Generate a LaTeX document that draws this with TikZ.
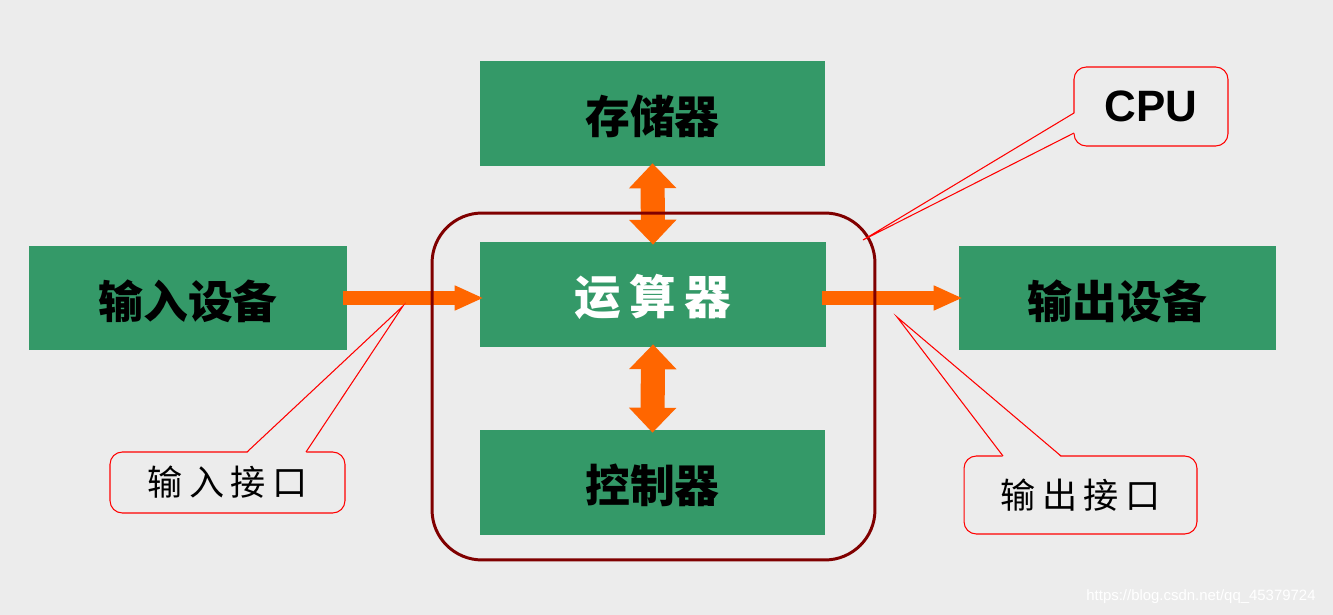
\documentclass[tikz,border=0pt]{standalone}
\usepackage{fontspec}
\setmainfont{Liberation Sans}
\newfontfamily\cjkbold{Noto Sans CJK SC}
\newfontfamily\cjkwide{Noto Sans CJK SC}[LetterSpace=18]
\usepackage{tikz}
\usetikzlibrary{
	arrows.meta,
	positioning,
	calc
}
\usepackage{xcolor}
\definecolor{bggray}{RGB}{236,236,236}
\definecolor{unitgreen}{RGB}{52,153,104}
\definecolor{busorange}{RGB}{255,102,0}
\definecolor{cpured}{RGB}{128,0,0}

\begin{document}
\begin{tikzpicture}[x=0.02cm,y=-0.02cm,
	unit/.style={fill=unitgreen,inner sep=0pt,minimum width=6.9cm,minimum height=2.1cm,
		text height=26pt,text depth=3pt,
		font=\cjkbold\bfseries\fontsize{25.5}{30}\selectfont},
	flow/.style={draw=busorange,line width=7.4pt,
		-{Triangle[length=16.5pt,width=13.1pt]},shorten <=-0.08cm,shorten >=-0.08cm},
	bus/.style={draw=busorange,line width=13.7pt,
		{Triangle[length=14.2pt,width=26.2pt]}-{Triangle[length=14.2pt,width=26.2pt]},
		shorten <=-0.06cm,shorten >=-0.06cm},
	note/.style={draw=red,line width=0.6pt,fill=bggray,rounded corners=7pt,inner sep=0pt},
	pointer/.style={draw=red,line width=0.6pt}
	]
			
			\fill[bggray] (0,0) rectangle (1333,615);
			
			\node[unit] (mem) at (652.5,113.5) {存储器};
			\node[unit,minimum width=6.92cm,text=white,font=\cjkwide\bfseries\fontsize{26.5}{30}\selectfont]
				(alu) at (653,294.5) {运算器};
			\node[unit] (ctrl) at (652.5,482.5) {控制器};
			
			\node[unit,minimum width=6.36cm,minimum height=2.08cm] (in) at (188,298) {输入设备};
			\node[unit,minimum width=6.34cm,minimum height=2.08cm] (out) at (1117.5,298) {输出设备};
			
			\draw[flow] (in.east) -- (in.east -| alu.west);
			\draw[flow] (alu.east |- out.west) -- (out.west);
			
			\draw[bus] (mem.south) -- (alu.north);
			\draw[bus] (alu.south) -- (ctrl.north);
			
			\node[draw=cpured,line width=1.7pt,rounded corners=1cm,
				minimum width=8.86cm,minimum height=6.94cm] (cpu) at (653.5,386.5) {};
			
			% callouts
			\node[note,minimum width=3.08cm,minimum height=1.58cm,
				font=\bfseries\fontsize{25}{30}\selectfont] (cpunote) at (1151,106.5) {CPU};
			\coordinate (cputip) at (863,240);
			\fill[bggray] (1075,113) -- (cputip) -- (1075,133) -- cycle;
			\draw[pointer] (1074,113) -- (cputip) -- (1074,133);
			
			\node[note,minimum width=4.7cm,minimum height=1.22cm,
				font=\cjkwide\fontsize{20}{24}\selectfont] (innote) at (227.5,482.5) {输入接口};
			\coordinate (intip) at (403,306);
			\fill[bggray] (247,453) -- (intip) -- (306,453) -- cycle;
			\draw[pointer] (247,452) -- (intip) -- (306,452);
			
			\node[note,minimum width=4.66cm,minimum height=1.56cm,
				font=\cjkwide\fontsize{20}{24}\selectfont] (outnote) at (1080.5,495) {输出接口};
			\coordinate (outtip) at (897,317);
			\fill[bggray] (1003,457) -- (outtip) -- (1061,457) -- cycle;
			\draw[pointer] (1003,456) -- (outtip) -- (1061,456);
			
			\node[text=white,font=\fontsize{8.5}{10}\selectfont] (mark) at (1201,597)
				{https://blog.csdn.net/qq\_45379724};
			
		\end{tikzpicture}
\end{document}
